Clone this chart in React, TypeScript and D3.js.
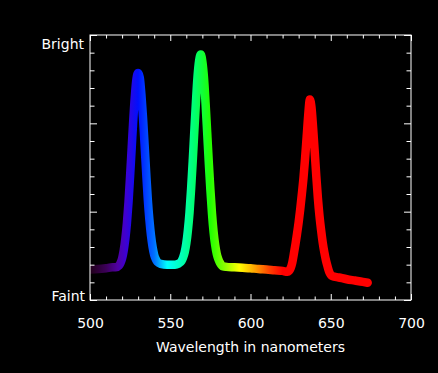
import React, { useEffect, useRef } from 'react';
import * as d3 from 'd3';

// spectrum: wavelength (nm) and relative intensity
const wavelengths = [
  500, 505, 510, 514, 516, 518, 519, 520, 521, 522, 523, 524, 525, 526, 527, 528, 529, 530,
  531, 532, 533, 534, 535, 536, 537, 538, 539, 540, 541, 542, 544, 548, 553, 555, 557, 558,
  559, 560, 561, 562, 563, 564, 565, 566, 567, 568, 569, 570, 571, 572, 573, 574, 575, 576,
  577, 578, 579, 580, 581, 583, 585, 590, 595, 600, 605, 610, 615, 620, 623, 624, 625, 626,
  627, 628, 629, 630, 631, 632, 633, 634, 635, 636, 637, 638, 639, 640, 641, 642, 643, 644,
  645, 646, 647, 648, 649, 650, 651, 655, 660, 665, 670, 673,
];
const intensity = [
  0.345, 0.35, 0.36, 0.37, 0.37, 0.39, 0.42, 0.47, 0.56, 0.69, 0.87, 1.11, 1.41, 1.73, 2.05, 2.32, 2.51, 2.57,
  2.52, 2.33, 2.07, 1.76, 1.44, 1.14, 0.91, 0.73, 0.6, 0.51, 0.46, 0.43, 0.41, 0.4, 0.4, 0.41, 0.44, 0.48,
  0.54, 0.64, 0.79, 0.99, 1.26, 1.57, 1.91, 2.24, 2.53, 2.71, 2.78, 2.7, 2.52, 2.23, 1.9, 1.56, 1.25, 0.98,
  0.77, 0.62, 0.52, 0.46, 0.42, 0.38, 0.375, 0.37, 0.365, 0.36, 0.35, 0.345, 0.337, 0.33, 0.32, 0.33, 0.36, 0.42,
  0.52, 0.63, 0.75, 0.88, 1.03, 1.2, 1.38, 1.6, 1.85, 2.1, 2.27, 2.18, 1.95, 1.68, 1.4, 1.15, 0.95, 0.79,
  0.65, 0.54, 0.45, 0.38, 0.32, 0.285, 0.27, 0.255, 0.235, 0.22, 0.205, 0.195,
];

// colour of the trace along the wavelength axis
const colorWavelengths = [500, 510, 517, 522, 530, 540, 548, 556, 565, 575, 583, 593, 603, 612, 620, 700];
const colorValues = [
  '#200018', '#3c0058', '#5000a0', '#4000d0', '#0010ff', '#0070ff', '#00ffff', '#00ffc0',
  '#00ff70', '#20ff00', '#80ff00', '#ffff00', '#ffa000', '#ff4000', '#ff0000', '#ff0000',
];

const xMajorTicks = [500, 550, 600, 650, 700];
const yLabels = ['Faint', 'Bright'];

const App = () => {
  const svgRef = useRef<SVGSVGElement>(null);

  useEffect(() => {
    const width = 438;
    const height = 373;
    const margin = { top: 35, right: 27, bottom: 73, left: 90 };
    const innerW = width - margin.left - margin.right;
    const innerH = height - margin.top - margin.bottom;

    const svg = d3.select(svgRef.current);
    svg.selectAll('*').remove();

    svg.append('rect').attr('width', width).attr('height', height).attr('fill', '#000');

    const x = d3.scaleLinear().domain([500, 700]).range([0, innerW]);
    const y = d3.scaleLinear().domain([0, 3]).range([innerH, 0]);

    const defs = svg.append('defs');
    defs.append('clipPath').attr('id', 'plot-clip')
      .append('rect').attr('width', innerW).attr('height', innerH);

    const grad = defs.append('linearGradient')
      .attr('id', 'spectrum')
      .attr('gradientUnits', 'userSpaceOnUse')
      .attr('x1', x(500)).attr('x2', x(700))
      .attr('y1', 0).attr('y2', 0);
    colorWavelengths.forEach((w, i) => {
      grad.append('stop')
        .attr('offset', (x(w) - x(500)) / (x(700) - x(500)))
        .attr('stop-color', colorValues[i]);
    });

    const g = svg.append('g').attr('transform', `translate(${margin.left},${margin.top})`);

    const points = wavelengths.map((w, i) => [w, intensity[i]] as [number, number]);
    const line = d3.line<[number, number]>()
      .x(d => x(d[0]))
      .y(d => y(d[1]))
      .curve(d3.curveMonotoneX);

    g.append('path')
      .datum(points)
      .attr('clip-path', 'url(#plot-clip)')
      .attr('fill', 'none')
      .attr('stroke', 'url(#spectrum)')
      .attr('stroke-width', 8.5)
      .attr('stroke-linecap', 'round')
      .attr('stroke-linejoin', 'round')
      .attr('d', line);

    const xMinor = d3.range(500, 701, 10).filter(v => v % 50 !== 0);
    const yMinor = d3.range(0, 3.01, 0.2).filter(v => Math.abs(v - Math.round(v)) > 0.01);

    const styleAxis = (sel) => {
      sel.select('.domain').remove();
      sel.selectAll('line').attr('stroke', '#fff');
      sel.selectAll('text')
        .attr('fill', '#fff')
        .attr('font-family', '"DejaVu Sans", sans-serif')
        .attr('font-size', 14);
    };

    // bottom axis with labels
    g.append('g').attr('transform', `translate(0,${innerH})`)
      .call(d3.axisBottom(x).tickValues(xMajorTicks).tickSize(-6).tickSizeOuter(0).tickPadding(18))
      .call(styleAxis);
    g.append('g').attr('transform', `translate(0,${innerH})`)
      .call(d3.axisBottom(x).tickValues(xMinor).tickSize(-3.5).tickSizeOuter(0).tickFormat(() => ''))
      .call(styleAxis);
    // top axis, ticks only
    g.append('g')
      .call(d3.axisTop(x).tickValues(xMajorTicks).tickSize(-6).tickSizeOuter(0).tickFormat(() => ''))
      .call(styleAxis);
    g.append('g')
      .call(d3.axisTop(x).tickValues(xMinor).tickSize(-3.5).tickSizeOuter(0).tickFormat(() => ''))
      .call(styleAxis);

    // left and right axes, ticks only
    [0, innerW].forEach((pos, i) => {
      const major = i === 0 ? d3.axisLeft(y) : d3.axisRight(y);
      const minor = i === 0 ? d3.axisLeft(y) : d3.axisRight(y);
      g.append('g').attr('transform', `translate(${pos},0)`)
        .call(major.tickValues([0, 1, 2, 3]).tickSize(-7).tickSizeOuter(0).tickFormat(() => ''))
        .call(styleAxis);
      g.append('g').attr('transform', `translate(${pos},0)`)
        .call(minor.tickValues(yMinor).tickSize(-4.5).tickSizeOuter(0).tickFormat(() => ''))
        .call(styleAxis);
    });

    // frame
    g.append('rect')
      .attr('x', 0).attr('y', 0)
      .attr('width', innerW).attr('height', innerH)
      .attr('fill', 'none')
      .attr('stroke', '#fff')
      .attr('stroke-width', 1);

    // y end labels
    g.append('text')
      .attr('x', -5).attr('y', y(0) + 1)
      .attr('text-anchor', 'end')
      .attr('fill', '#fff')
      .attr('font-family', '"DejaVu Sans", sans-serif')
      .attr('font-size', 14)
      .text(yLabels[0]);
    g.append('text')
      .attr('x', -6).attr('y', y(3) + 14)
      .attr('text-anchor', 'end')
      .attr('fill', '#fff')
      .attr('font-family', '"DejaVu Sans", sans-serif')
      .attr('font-size', 14)
      .text(yLabels[1]);

    // x title
    g.append('text')
      .attr('x', innerW / 2).attr('y', innerH + 52)
      .attr('text-anchor', 'middle')
      .attr('fill', '#fff')
      .attr('font-family', '"DejaVu Sans", sans-serif')
      .attr('font-size', 14)
      .text('Wavelength in nanometers');
  }, []);

  return (
    <svg
      ref={svgRef}
      width={438}
      height={373}
      style={{ position: 'absolute', left: 0, top: 0, display: 'block' }}
    />
  );
};

export default App;
